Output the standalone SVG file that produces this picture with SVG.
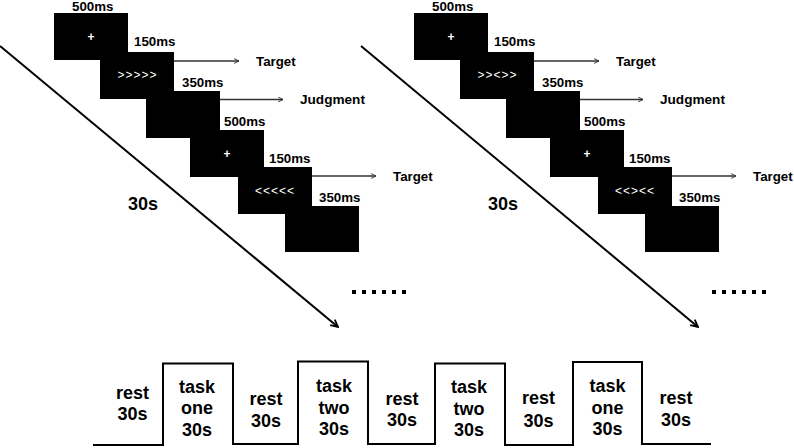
<svg xmlns="http://www.w3.org/2000/svg" width="794" height="448" viewBox="0 0 794 448">
<defs>
<style>
.lbl{font-family:"Liberation Sans",Arial,sans-serif;font-weight:bold;font-size:13.3px;fill:#000}
.big{font-family:"Liberation Sans",Arial,sans-serif;font-weight:bold;font-size:18px;fill:#000}
.stim{font-family:"Liberation Sans",Arial,sans-serif;font-size:12px;fill:#fff;letter-spacing:1px}
.plus{font-family:"Liberation Sans",Arial,sans-serif;font-weight:bold;font-size:12px;fill:#fff}
.box{fill:#000}
.harr{stroke:#333;stroke-width:1.3;fill:none}
.darr{stroke:#000;stroke-width:2;fill:none}
.wave{stroke:#000;stroke-width:2;fill:none}
</style>
<marker id="ah" viewBox="0 0 10 10" refX="9" refY="5" markerWidth="6" markerHeight="6" orient="auto" markerUnits="userSpaceOnUse">
<path d="M1,1 L9,5 L1,9" fill="none" stroke="#333" stroke-width="1.6"/>
</marker>
<marker id="ahd" viewBox="0 0 10 10" refX="9" refY="5" markerWidth="9" markerHeight="9" orient="auto" markerUnits="userSpaceOnUse">
<path d="M1,1 L9,5 L1,9" fill="none" stroke="#000" stroke-width="2"/>
</marker>
<g id="panel">
<g id="s1"><rect class="box" x="54" y="13" width="74" height="47"/></g>
<g id="s2"><rect class="box" x="100" y="52" width="74" height="47"/></g>
<g id="s3"><rect class="box" x="146" y="91" width="74" height="47"/></g>
<g id="s4"><rect class="box" x="190" y="130" width="74" height="47"/></g>
<g id="s5"><rect class="box" x="238" y="167" width="74" height="47"/></g>
<g id="s6"><rect class="box" x="285" y="206" width="74" height="46"/></g>
<text class="plus" x="91" y="40.5" text-anchor="middle">+</text>
<text class="plus" x="227" y="157.5" text-anchor="middle">+</text>
<text class="lbl" x="72" y="10.5">500ms</text>
<text class="lbl" x="134" y="46">150ms</text>
<text class="lbl" x="182" y="87">350ms</text>
<text class="lbl" x="224" y="126">500ms</text>
<text class="lbl" x="269" y="162.5">150ms</text>
<text class="lbl" x="319" y="202">350ms</text>
<text class="lbl" x="256" y="65.5">Target</text>
<text class="lbl" x="300" y="104" style="font-size:13.6px">Judgment</text>
<text class="lbl" x="393" y="181">Target</text>
<text class="big" x="128" y="210">30s</text>
<g fill="#000">
<rect x="352" y="290" width="4" height="4"/><rect x="362" y="290" width="4" height="4"/><rect x="372" y="290" width="4" height="4"/><rect x="382" y="290" width="4" height="4"/><rect x="392" y="290" width="4" height="4"/><rect x="402" y="290" width="4" height="4"/>
</g>
</g>
</defs>
<rect width="794" height="448" fill="#fff"/>
<g id="left-panel">
<use href="#panel"/>
<text class="stim" x="137.5" y="79" text-anchor="middle">&gt;&gt;&gt;&gt;&gt;</text>
<text class="stim" x="275" y="194.5" text-anchor="middle">&lt;&lt;&lt;&lt;&lt;</text>
</g>
<g id="right-panel">
<use href="#panel" x="360"/>
<text class="stim" x="497.5" y="79" text-anchor="middle">&gt;&gt;&lt;&gt;&gt;</text>
<text class="stim" x="635" y="194.5" text-anchor="middle">&lt;&lt;&gt;&lt;&lt;</text>
</g>
<g id="connectors">
<line class="harr" x1="174" y1="61" x2="239" y2="61" marker-end="url(#ah)"/>
<line class="harr" x1="220" y1="99.5" x2="283" y2="99.5" marker-end="url(#ah)"/>
<line class="harr" x1="312" y1="176" x2="376" y2="176" marker-end="url(#ah)"/>
<line class="harr" x1="534" y1="61" x2="599" y2="61" marker-end="url(#ah)"/>
<line class="harr" x1="580" y1="99.5" x2="643" y2="99.5" marker-end="url(#ah)"/>
<line class="harr" x1="672" y1="176" x2="736" y2="176" marker-end="url(#ah)"/>
<line class="darr" x1="0" y1="46" x2="338" y2="327" marker-end="url(#ahd)"/>
<line class="darr" x1="361" y1="46" x2="698" y2="327" marker-end="url(#ahd)"/>
</g>
<g id="timeline">
<path class="wave" d="M93,445 H163 V363.5 H233 V444 H298 V361.5 H368 V444 H435 V363.5 H505 V445 H573 V362 H642 V444 H711"/>
</g>
<g id="b1"><text class="big" text-anchor="middle" x="132.5" y="399">rest</text><text class="big" text-anchor="middle" x="132.5" y="420">30s</text></g>
<g id="b2"><text class="big" text-anchor="middle" x="197" y="392.5">task</text><text class="big" text-anchor="middle" x="197" y="414">one</text><text class="big" text-anchor="middle" x="197" y="436">30s</text></g>
<g id="b3"><text class="big" text-anchor="middle" x="266" y="405">rest</text><text class="big" text-anchor="middle" x="266" y="426.5">30s</text></g>
<g id="b4"><text class="big" text-anchor="middle" x="334" y="391.5">task</text><text class="big" text-anchor="middle" x="334" y="414">two</text><text class="big" text-anchor="middle" x="334" y="435">30s</text></g>
<g id="b5"><text class="big" text-anchor="middle" x="402" y="405">rest</text><text class="big" text-anchor="middle" x="402" y="426">30s</text></g>
<g id="b6"><text class="big" text-anchor="middle" x="469" y="392.5">task</text><text class="big" text-anchor="middle" x="469" y="414.5">two</text><text class="big" text-anchor="middle" x="469" y="435.5">30s</text></g>
<g id="b7"><text class="big" text-anchor="middle" x="538.5" y="404">rest</text><text class="big" text-anchor="middle" x="538.5" y="426.5">30s</text></g>
<g id="b8"><text class="big" text-anchor="middle" x="607.5" y="391.5">task</text><text class="big" text-anchor="middle" x="607.5" y="413.5">one</text><text class="big" text-anchor="middle" x="607.5" y="435">30s</text></g>
<g id="b9"><text class="big" text-anchor="middle" x="676" y="404">rest</text><text class="big" text-anchor="middle" x="676" y="426">30s</text></g>
</svg>
